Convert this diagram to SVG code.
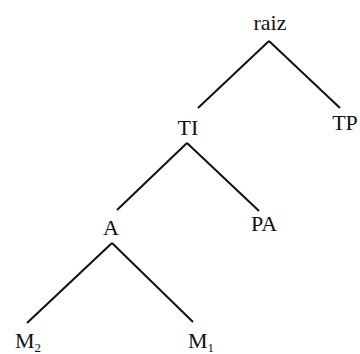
<svg xmlns="http://www.w3.org/2000/svg" width="360" height="354" viewBox="0 0 360 354">
<style>
text{font-family:'Liberation Serif','Times New Roman',serif;font-size:22px;fill:#111;text-anchor:middle}
.s{font-size:13px}
.e{stroke:#111;stroke-width:2;fill:none}
</style>
<rect width="360" height="354" fill="#fff"/>
<g id="connectors">
<line class="e" x1="269" y1="41" x2="198" y2="108"/>
<line class="e" x1="269" y1="41" x2="340" y2="108"/>
<line class="e" x1="187" y1="143" x2="117" y2="210"/>
<line class="e" x1="187" y1="143" x2="259" y2="211"/>
<line class="e" x1="112" y1="243" x2="27" y2="323"/>
<line class="e" x1="112" y1="243" x2="193" y2="322"/>
</g>
<g id="raiz"><text x="270" y="30">raiz</text></g>
<g id="TI"><text x="188" y="135">TI</text></g>
<g id="TP"><text x="345" y="130">TP</text></g>
<g id="A"><text x="111" y="235">A</text></g>
<g id="PA"><text x="264" y="231">PA</text></g>
<g id="M2"><text x="28" y="348">M<tspan class="s" dy="4">2</tspan></text></g>
<g id="M1"><text x="201" y="348">M<tspan class="s" dy="4">1</tspan></text></g>
</svg>
